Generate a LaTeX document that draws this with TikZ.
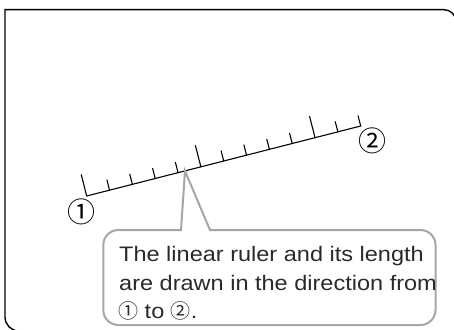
\documentclass[tikz,border=0pt]{standalone}
\usepackage{fontspec}
\setmainfont{Liberation Sans}
\newfontfamily\widesans[FakeStretch=1.12]{Liberation Sans}
\newfontfamily\cjk{Noto Sans CJK JP}
\definecolor{calloutgrey}{HTML}{A6A6A6}
\definecolor{textdark}{HTML}{2A2A2A}
\begin{document}
\begin{tikzpicture}[x=1pt,y=1pt,
  frameline/.style={line width=1.4pt, draw=black},
  rulerline/.style={line width=1.1pt, draw=black, line cap=round},
  calloutbox/.style={line width=2pt, draw=calloutgrey, fill=white, line join=miter},
  bodytext/.style={anchor=base west, inner sep=0pt, text=textdark, font=\widesans\fontsize{21}{25}\selectfont},
  numlabel/.style={inner sep=0pt, text=black, font=\cjk\fontsize{28}{28}\selectfont}]
\useasboundingbox (0,-329) rectangle (454,0);
% outer frame
\draw[frameline] (19,-331) arc(270:180:14) -- (5,-9.7) -- (444,-9.7) arc(90:0:12) -- (456,-345);
% ruler
\coordinate (r1) at (86.7,-196);
\coordinate (r2) at (360.7,-126);
\begin{scope}[shift={(r1)}, rotate=14.33]
  \draw[rulerline] (0,0) -- (282.8,0);
  \foreach \i in {0,...,12} {
    \pgfmathsetmacro{\len}{(\i==0 || \i==5 || \i==10) ? 22 : 10.5}
    \draw[rulerline] (\i*23.567,0) -- (\i*23.567,\len);
  }
\end{scope}
% labels
\node[numlabel] (n1) at (81,-212) {①};
\node[numlabel] (n2) at (372,-141) {②};
% callout
\coordinate (tip) at (185,-171);
\draw[calloutbox] (181,-230) -- (tip) -- (210,-230) -- (420.5,-230) arc(90:0:15)
  -- (435.5,-310) arc(0:-90:15) -- (118.3,-325) arc(270:180:15)
  -- (103.3,-245) arc(180:90:15) -- cycle;
\node[bodytext] (t1) at (119,-261.7) {The linear ruler and its length};
\node[bodytext] (t2) at (119,-290) {are drawn in the direction from};
\node[bodytext] (t3) at (118,-318.3) {{\cjk\fontsize{20}{20}\selectfont ①} to {\cjk\fontsize{20}{20}\selectfont ②}.};
\end{tikzpicture}
\end{document}
